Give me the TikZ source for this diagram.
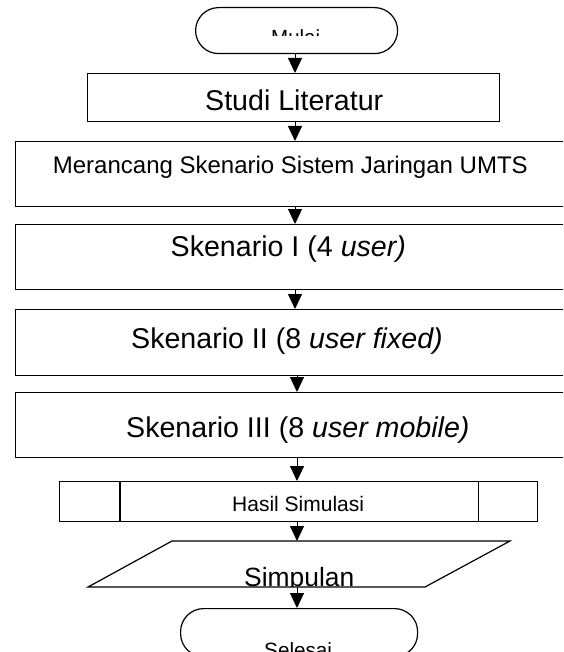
\documentclass[tikz,border=0pt]{standalone}
\usepackage{fontspec}
\setmainfont{Liberation Sans}
\usetikzlibrary{arrows.meta,calc}
\begin{document}
\begin{tikzpicture}[x=1pt,y=-1pt,
  box/.style={draw,line width=1.2pt,rectangle,inner sep=0pt,anchor=north west},
  term/.style={draw,line width=1.2pt,rectangle,rounded corners=23pt,inner sep=0pt,anchor=north west},
  txt/.style={anchor=base west,inner sep=0pt},
  arr/.style={line width=1pt,-{Triangle[width=14pt,length=15pt]}},
  big/.style={font=\fontsize{28.6}{32}\selectfont},
  mid/.style={font=\fontsize{24}{28}\selectfont},
  small/.style={font=\fontsize{20.5}{24}\selectfont}
]
\useasboundingbox (0,0) rectangle (563,652);
\clip (0,0) rectangle (563,652);
\fill[white] (0,0) rectangle (563,652);

% shapes
\node[term,minimum width=202pt,minimum height=46pt] (mulai) at (195,7) {};
\node[box,minimum width=412pt,minimum height=48pt] (studi) at (87,73) {};
\node[box,minimum width=551pt,minimum height=65pt] (rancang) at (15,141) {};
\node[box,minimum width=551pt,minimum height=65pt] (sk1) at (15,224) {};
\node[box,minimum width=551pt,minimum height=66pt] (sk2) at (15,309) {};
\node[box,minimum width=551pt,minimum height=65pt] (sk3) at (15,392) {};
\node[box,minimum width=478pt,minimum height=40pt] (hasil) at (59,481) {};
\draw[line width=1.2pt] ($(hasil.north west)+(61,0)$) -- ($(hasil.south west)+(61,0)$);
\draw[line width=1.2pt] ($(hasil.north east)+(-60,0)$) -- ($(hasil.south east)+(-60,0)$);
\coordinate (simtop) at (297,541);
\coordinate (simbot) at (297,587);
\draw[line width=1.2pt] (172,541) -- (510,541) -- (425,587) -- (88,587) -- cycle;
\node[term,minimum width=237pt,minimum height=48pt] (selesai) at (180,608) {};

% texts
\begin{scope}
\clip (190,0) rectangle (400,36);
\node[txt,small] (tmulai) at (271,44.7) {Mulai};
\end{scope}
\node[txt,big] (tstudi) at (205,111) {Studi Literatur};
\node[txt,mid] (trancang) at (52.7,174) {Merancang Skenario Sistem Jaringan UMTS};
\node[txt,big] (tsk1) at (170.5,256) {Skenario I (4 \textit{user)}};
\node[txt,big] (tsk2) at (131,348) {Skenario II (8 \textit{user fixed)}};
\node[txt,big] (tsk3) at (126,437) {Skenario III (8 \textit{user mobile)}};
\node[txt,font=\fontsize{21}{24}\selectfont] (thasil) at (232,511) {Hasil Simulasi};
\begin{scope}
\clip (100,500) rectangle (500,586);
\node[txt,font=\fontsize{26.4}{30}\selectfont] (tsimpulan) at (244,586.5) {Simpulan};
\end{scope}
\node[txt,font=\fontsize{20.7}{24}\selectfont] (tselesai) at (264,657.8) {Selesai};

% connectors
\coordinate (ax) at (295,0);
\coordinate (bx) at (297,0);
\draw[arr] (ax |- mulai.south) -- (ax |- studi.north);
\draw[arr] (ax |- studi.south) -- (ax |- rancang.north);
\draw[arr] (ax |- rancang.south) -- (ax |- sk1.north);
\draw[arr] (ax |- sk1.south) -- (ax |- sk2.north);
\draw[arr] (bx |- sk2.south) -- (bx |- sk3.north);
\draw[arr] (bx |- sk3.south) -- (bx |- hasil.north);
\draw[arr] (bx |- hasil.south) -- (simtop);
\draw[arr] (simbot) -- (bx |- selesai.north);
\end{tikzpicture}
\end{document}
